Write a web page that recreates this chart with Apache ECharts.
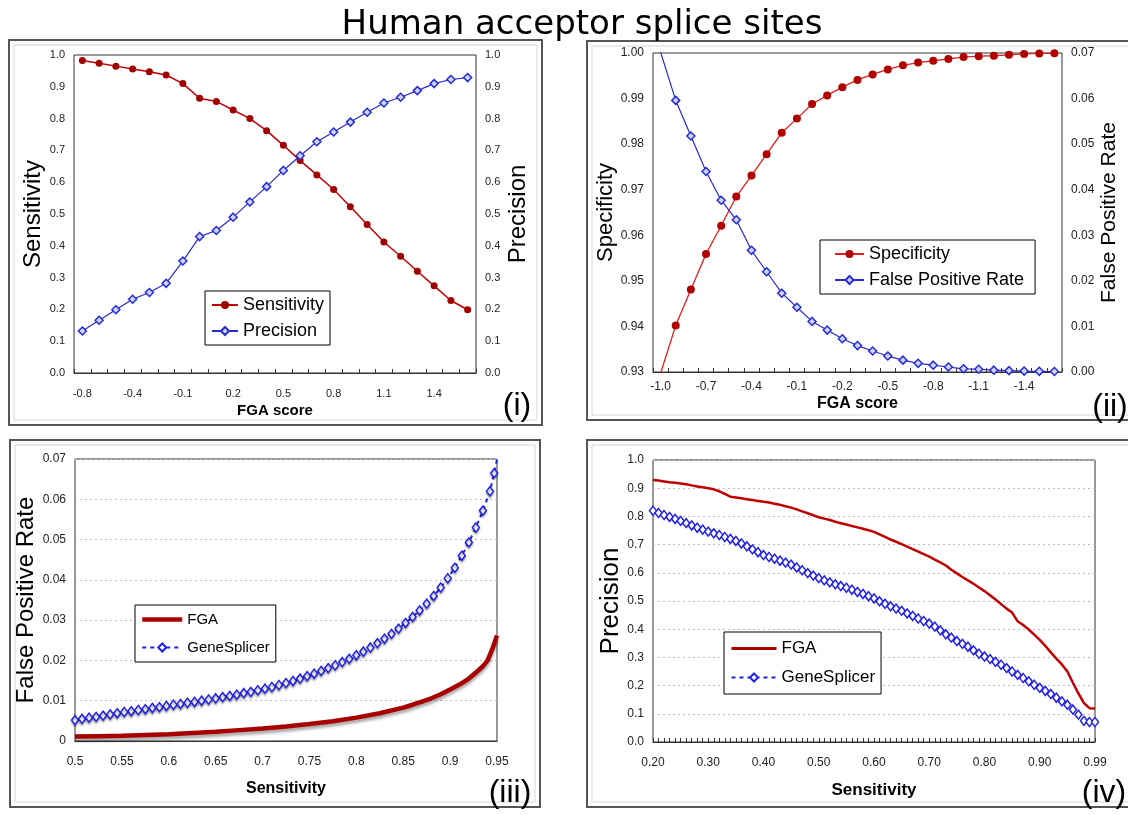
<!DOCTYPE html>
<html><head><meta charset="utf-8">
<script src="https://cdn.jsdelivr.net/npm/echarts@6/dist/echarts.min.js"></script>
<style>html,body{margin:0;padding:0;background:#fff}#c{width:1128px;height:815px}</style>
</head><body><div id="c"></div>
<script>
// ---- Panel (i) ----
const catsI = ['-0.8','-0.7','-0.5','-0.4','-0.3','-0.2','-0.1','0.0','0.1','0.2','0.3','0.4','0.5','0.6','0.7','0.8','0.9','1.0','1.1','1.2','1.3','1.4','1.5','1.6'];
const sensI = [0.983,0.974,0.965,0.956,0.947,0.937,0.910,0.864,0.854,0.827,0.800,0.762,0.716,0.668,0.623,0.577,0.523,0.467,0.412,0.367,0.320,0.274,0.228,0.199];
const precI = [0.132,0.166,0.199,0.232,0.253,0.282,0.352,0.429,0.448,0.490,0.538,0.586,0.637,0.683,0.727,0.758,0.789,0.820,0.849,0.867,0.888,0.910,0.923,0.929];
// ---- Panel (ii) ----
const catsII = ['-1.0','-0.9','-0.8','-0.7','-0.6','-0.5','-0.4','-0.3','-0.2','-0.1','0.0','-0.1','-0.2','-0.3','-0.4','-0.5','-0.6','-0.7','-0.8','-0.9','-1.0','-1.1','-1.2','-1.3','-1.4','-1.5','-1.6'];
const specII = [0.9297,0.9402,0.9481,0.9559,0.9621,0.9685,0.9731,0.9778,0.9825,0.9856,0.9888,0.9907,0.9925,0.9941,0.9953,0.9964,0.9973,0.9979,0.9983,0.9987,0.9991,0.9993,0.9994,0.9996,0.9998,0.9999,0.99995];
const fprII = [0.0702,0.0596,0.0518,0.0440,0.0377,0.0334,0.0267,0.0220,0.0173,0.0142,0.0111,0.0092,0.0073,0.0058,0.0046,0.0035,0.0026,0.0019,0.0015,0.0011,0.0007,0.0006,0.0004,0.0003,0.0002,0.00015,0.0001];
// ---- Panel (iii) ----
const fgaIIIx = [0.5,0.525,0.55,0.575,0.6,0.625,0.65,0.675,0.7,0.725,0.75,0.775,0.8,0.825,0.85,0.86,0.87,0.88,0.89,0.9,0.91,0.92,0.93,0.935,0.94,0.945,0.95];
const fgaIIIy = [0.0011,0.0012,0.0013,0.0015,0.0017,0.0020,0.0023,0.0027,0.0031,0.0036,0.0042,0.0049,0.0058,0.0069,0.0083,0.0090,0.0098,0.0106,0.0116,0.0128,0.0140,0.0155,0.0175,0.0186,0.0200,0.0228,0.0262];
const gsIIIx = [0.5,0.5075,0.515,0.5225,0.53,0.5375,0.545,0.5525,0.56,0.5675,0.575,0.5825,0.59,0.5975,0.605,0.6125,0.62,0.6275,0.635,0.6425,0.65,0.6575,0.665,0.6725,0.68,0.6875,0.695,0.7025,0.71,0.7175,0.725,0.7325,0.74,0.7475,0.755,0.7625,0.77,0.7775,0.785,0.7925,0.8,0.8075,0.815,0.8225,0.83,0.8375,0.845,0.8525,0.86,0.8675,0.875,0.8825,0.89,0.8975,0.905,0.9125,0.92,0.9275,0.935,0.9425,0.947,0.9505];
const gsIIIy = [0.0052,0.0055,0.0058,0.0060,0.0063,0.0066,0.0069,0.0072,0.0074,0.0077,0.0079,0.0082,0.0084,0.0087,0.0090,0.0092,0.0095,0.0097,0.0100,0.0103,0.0106,0.0109,0.0112,0.0115,0.0119,0.0122,0.0126,0.0130,0.0134,0.0139,0.0144,0.0149,0.0155,0.0161,0.0167,0.0174,0.0181,0.0188,0.0196,0.0204,0.0213,0.0222,0.0232,0.0243,0.0254,0.0266,0.0279,0.0293,0.0308,0.0324,0.0341,0.0360,0.0381,0.0404,0.0430,0.0460,0.0493,0.0530,0.0572,0.0620,0.0665,0.0705];
// ---- Panel (iv) ----
const catsIV = ['0.20','0.21','0.22','0.23','0.24','0.25','0.26','0.27','0.28','0.29',
 '0.30','0.31','0.32','0.33','0.34','0.35','0.36','0.37','0.38','0.39',
 '0.40','0.41','0.42','0.43','0.44','0.45','0.46','0.47','0.48','0.49',
 '0.50','0.51','0.52','0.53','0.54','0.55','0.56','0.57','0.58','0.59',
 '0.60','0.61','0.62','0.63','0.64','0.65','0.66','0.67','0.68','0.69',
 '0.70','0.71','0.72','0.73','0.74','0.75','0.76','0.77','0.78','0.79',
 '0.80','0.81','0.82','0.83','0.84','0.85','0.86','0.87','0.88','0.89',
 '0.90','0.91','0.92','0.93','0.94','0.95','0.96','0.97','0.98','0.985','0.99'];
const fgaIV = [0.929,0.927,0.924,0.921,0.919,0.917,0.914,0.910,0.906,0.903,
 0.900,0.896,0.889,0.880,0.870,0.867,0.864,0.861,0.858,0.855,
 0.852,0.849,0.845,0.841,0.836,0.831,0.825,0.818,0.811,0.804,
 0.797,0.792,0.787,0.781,0.776,0.771,0.766,0.761,0.756,0.751,
 0.745,0.736,0.727,0.718,0.710,0.702,0.693,0.684,0.675,0.666,
 0.657,0.647,0.637,0.626,0.611,0.598,0.585,0.573,0.561,0.548,
 0.535,0.520,0.505,0.489,0.473,0.459,0.428,0.415,0.399,0.381,
 0.362,0.341,0.318,0.296,0.275,0.250,0.210,0.172,0.138,0.120,0.119];
const gsIV = [0.820,0.812,0.805,0.798,0.791,0.784,0.776,0.768,0.760,0.753,
 0.746,0.740,0.734,0.727,0.720,0.713,0.704,0.694,0.683,0.673,
 0.663,0.656,0.650,0.643,0.636,0.629,0.619,0.609,0.599,0.590,
 0.581,0.573,0.566,0.559,0.553,0.547,0.540,0.532,0.525,0.517,
 0.509,0.499,0.490,0.481,0.473,0.465,0.456,0.447,0.438,0.429,
 0.420,0.409,0.396,0.382,0.370,0.358,0.348,0.338,0.325,0.313,
 0.303,0.294,0.284,0.274,0.262,0.250,0.238,0.227,0.215,0.203,
 0.192,0.181,0.170,0.157,0.144,0.132,0.115,0.097,0.075,0.071,0.071];

const SANS = "'Liberation Sans', Arial, sans-serif";
const zip = (xs, ys) => xs.map((x, i) => [x, ys[i]]);

const RED = '#C00000', DRED = '#A00000', BLUE = '#2a2ad0', GSB = '#2020e8';

function catX(grid, data, labelInterval, boundary, name, nameSize, labelSize, margin, nameGap) {
  return {
    type: 'category', gridIndex: grid, data: data, boundaryGap: boundary,
    axisLine: { show: true, lineStyle: { color: '#333', width: 1 } },
    axisTick: { show: true, inside: true, interval: 0, length: 4, lineStyle: { color: '#333' } },
    axisLabel: { interval: labelInterval, fontSize: labelSize, fontFamily: SANS, color: '#222', margin: margin },
    splitLine: { show: false },
    name: name, nameLocation: 'middle', nameGap: nameGap,
    nameTextStyle: { fontSize: nameSize, fontWeight: 'bold', fontFamily: SANS, color: '#000' }
  };
}
function valY(grid, min, max, interval, digits, pos, name, nameSize, labelSize, nameGap, gridLines) {
  return {
    type: 'value', gridIndex: grid, min: min, max: max, interval: interval, position: pos,
    axisLine: { show: false }, axisTick: { show: false },
    axisLabel: { fontSize: labelSize, fontFamily: SANS, color: '#222', margin: 9,
      formatter: v => digits < 0 ? String(+v.toFixed(2)) : v.toFixed(digits) },
    splitLine: { show: !!gridLines, lineStyle: { color: '#bdbdbd', type: [2, 3], width: 1 } },
    name: name, nameLocation: 'middle', nameRotate: 90, nameGap: nameGap,
    nameTextStyle: { fontSize: nameSize, fontFamily: SANS, color: '#000' }
  };
}
const hideSym = { opacity: 0 };

const option = {
  animation: false,
  backgroundColor: '#fff',
  title: { text: 'Human acceptor splice sites', left: 580, top: 3, textAlign: 'center',
    textStyle: { fontSize: 34, fontWeight: 'normal', fontFamily: "'DejaVu Sans', sans-serif", color: '#000' } },
  grid: [
    { left: 74, top: 55, width: 402, height: 318, show: true, borderColor: '#333', borderWidth: 1, backgroundColor: '#fff' },
    { left: 653, top: 53, width: 409, height: 319, show: true, borderColor: '#333', borderWidth: 1, backgroundColor: '#fff' },
    { left: 75, top: 459, width: 422, height: 282, show: true, borderColor: '#333', borderWidth: 1, backgroundColor: '#fff' },
    { left: 653, top: 460, width: 442, height: 282, show: true, borderColor: '#333', borderWidth: 1, backgroundColor: '#fff' }
  ],
  xAxis: [
    catX(0, catsI, 2, true, 'FGA score', 15, 11, 15, 30),
    catX(1, catsII, 2, true, 'FGA score', 16, 12, 9, 24),
    { type: 'value', gridIndex: 2, min: 0.5, max: 0.95, interval: 0.05,
      axisLine: { show: true, lineStyle: { color: '#333' } }, axisTick: { show: false },
      axisLabel: { fontSize: 12, fontFamily: SANS, color: '#222', margin: 15, formatter: v => String(+v.toFixed(2)) },
      splitLine: { show: false },
      name: 'Sensitivity', nameLocation: 'middle', nameGap: 40,
      nameTextStyle: { fontSize: 16, fontWeight: 'bold', fontFamily: SANS, color: '#000' } },
    catX(3, catsIV, 9, false, 'Sensitivity', 17, 12, 15, 40)
  ],
  yAxis: [
    valY(0, 0, 1, 0.1, 1, 'left', 'Sensitivity', 24, 11, 28),
    valY(0, 0, 1, 0.1, 1, 'right', 'Precision', 24, 11, 30),
    valY(1, 0.93, 1.0, 0.01, 2, 'left', 'Specificity', 22, 12, 25),
    valY(1, 0, 0.07, 0.01, 2, 'right', 'False Positive Rate', 21, 12, 34),
    valY(2, 0, 0.07, 0.01, -1, 'left', 'False Positive Rate', 24, 12, 31, true),
    valY(3, 0, 1, 0.1, 1, 'left', 'Precision', 26, 12, 28, true)
  ],
  legend: [
    { orient: 'vertical', left: 205, top: 291, data: ['Sensitivity', 'Precision'], itemWidth: 26, itemHeight: 10, itemGap: 8,
      padding: [5, 6, 5, 6], borderColor: '#000', borderWidth: 1, backgroundColor: '#fff', selectedMode: false,
      textStyle: { fontSize: 18, fontFamily: SANS, color: '#000' } },
    { orient: 'vertical', left: 820, top: 240, data: ['Specificity', 'False Positive Rate'], itemWidth: 29, itemHeight: 10, itemGap: 8,
      padding: [5, 11, 5, 14], borderColor: '#000', borderWidth: 1, backgroundColor: '#fff', selectedMode: false,
      textStyle: { fontSize: 18, fontFamily: SANS, color: '#000' } },
    { orient: 'vertical', left: 135, top: 605, data: [{ name: 'FGA', lineStyle: { width: 4.5 }, itemStyle: hideSym }, 'GeneSplicer'],
      itemWidth: 40, itemHeight: 10, itemGap: 13,
      padding: [7, 6, 7, 5], borderColor: '#000', borderWidth: 1, backgroundColor: '#fff', selectedMode: false,
      textStyle: { fontSize: 15, fontFamily: SANS, color: '#000' } },
    { orient: 'vertical', left: 724, top: 632, data: [{ name: 'FGA', lineStyle: { width: 3 }, itemStyle: hideSym }, 'GeneSplicer'],
      itemWidth: 45, itemHeight: 10, itemGap: 12,
      padding: [8, 6, 8, 6], borderColor: '#000', borderWidth: 1, backgroundColor: '#fff', selectedMode: false,
      textStyle: { fontSize: 17, fontFamily: SANS, color: '#000' } }
  ],
  series: [
    { name: 'Sensitivity', type: 'line', xAxisIndex: 0, yAxisIndex: 0, data: sensI,
      symbol: 'circle', symbolSize: 7, itemStyle: { color: DRED }, lineStyle: { color: RED, width: 1.5 } },
    { name: 'Precision', type: 'line', xAxisIndex: 0, yAxisIndex: 1, data: precI,
      symbol: 'diamond', symbolSize: 8, itemStyle: { color: '#c9d6ff', borderColor: BLUE, borderWidth: 1.5 }, lineStyle: { color: BLUE, width: 1.2 } },
    { name: 'Specificity', type: 'line', xAxisIndex: 1, yAxisIndex: 2, data: specII,
      symbol: 'circle', symbolSize: 8, itemStyle: { color: '#B00000' }, lineStyle: { color: '#E02020', width: 1.3 } },
    { name: 'False Positive Rate', type: 'line', xAxisIndex: 1, yAxisIndex: 3, data: fprII,
      symbol: 'diamond', symbolSize: 8, itemStyle: { color: '#c9d6ff', borderColor: BLUE, borderWidth: 1.5 }, lineStyle: { color: BLUE, width: 1.2 } },
    { name: 'FGA', type: 'line', xAxisIndex: 2, yAxisIndex: 4, data: zip(fgaIIIx, fgaIIIy), symbol: 'none',
      itemStyle: { color: '#A80000' },
      lineStyle: { color: '#A80000', width: 4.5, shadowColor: 'rgba(0,0,0,0.35)', shadowBlur: 3, shadowOffsetY: 3 } },
    { name: 'GeneSplicer', type: 'line', xAxisIndex: 2, yAxisIndex: 4, data: zip(gsIIIx, gsIIIy),
      symbol: 'diamond', symbolSize: [7, 9], showAllSymbol: true,
      itemStyle: { color: '#fff', borderColor: GSB, borderWidth: 1.5, shadowColor: 'rgba(0,0,0,0.3)', shadowBlur: 2, shadowOffsetY: 2 },
      lineStyle: { color: GSB, width: 2, type: [4, 4] } },
    { name: 'FGA', type: 'line', xAxisIndex: 3, yAxisIndex: 5, data: fgaIV, symbol: 'none',
      itemStyle: { color: RED }, lineStyle: { color: RED, width: 2.5 } },
    { name: 'GeneSplicer', type: 'line', xAxisIndex: 3, yAxisIndex: 5, data: gsIV,
      symbol: 'diamond', symbolSize: [7, 9], showAllSymbol: true,
      itemStyle: { color: '#fff', borderColor: GSB, borderWidth: 1.5 },
      lineStyle: { color: GSB, width: 2, type: [4, 4] } }
  ],
  graphic: [
    { type: 'rect', z: -10, shape: { x: 9, y: 40, width: 533, height: 385 }, style: { fill: 'none', stroke: '#555', lineWidth: 2 } },
    { type: 'rect', z: -10, shape: { x: 14, y: 45, width: 523, height: 375 }, style: { fill: 'none', stroke: '#d6d6d6', lineWidth: 1 } },
    { type: 'rect', z: -10, shape: { x: 587, y: 41, width: 548, height: 379 }, style: { fill: 'none', stroke: '#555', lineWidth: 2 } },
    { type: 'rect', z: -10, shape: { x: 592, y: 46, width: 538, height: 369 }, style: { fill: 'none', stroke: '#d6d6d6', lineWidth: 1 } },
    { type: 'rect', z: -10, shape: { x: 10, y: 440, width: 530, height: 367 }, style: { fill: 'none', stroke: '#555', lineWidth: 2 } },
    { type: 'rect', z: -10, shape: { x: 15, y: 445, width: 520, height: 357 }, style: { fill: 'none', stroke: '#d6d6d6', lineWidth: 1 } },
    { type: 'rect', z: -10, shape: { x: 587, y: 440, width: 548, height: 367 }, style: { fill: 'none', stroke: '#555', lineWidth: 2 } },
    { type: 'rect', z: -10, shape: { x: 592, y: 445, width: 538, height: 357 }, style: { fill: 'none', stroke: '#d6d6d6', lineWidth: 1 } },
    { type: 'text', z: 10, style: { text: '(i)', x: 517, y: 406, font: '32px ' + SANS, fill: '#000', align: 'center', verticalAlign: 'middle', textAlign: 'center', textVerticalAlign: 'middle' } },
    { type: 'text', z: 10, style: { text: '(ii)', x: 1110, y: 407, font: '32px ' + SANS, fill: '#000', align: 'center', verticalAlign: 'middle', textAlign: 'center', textVerticalAlign: 'middle' } },
    { type: 'text', z: 10, style: { text: '(iii)', x: 510, y: 793, font: '32px ' + SANS, fill: '#000', align: 'center', verticalAlign: 'middle', textAlign: 'center', textVerticalAlign: 'middle' } },
    { type: 'text', z: 10, style: { text: '(iv)', x: 1104, y: 793, font: '32px ' + SANS, fill: '#000', align: 'center', verticalAlign: 'middle', textAlign: 'center', textVerticalAlign: 'middle' } }
  ]
};
option.title.left = 577;
const chart = echarts.init(document.getElementById('c'), null, { renderer: 'canvas' });
chart.setOption(option);
</script></body></html>
